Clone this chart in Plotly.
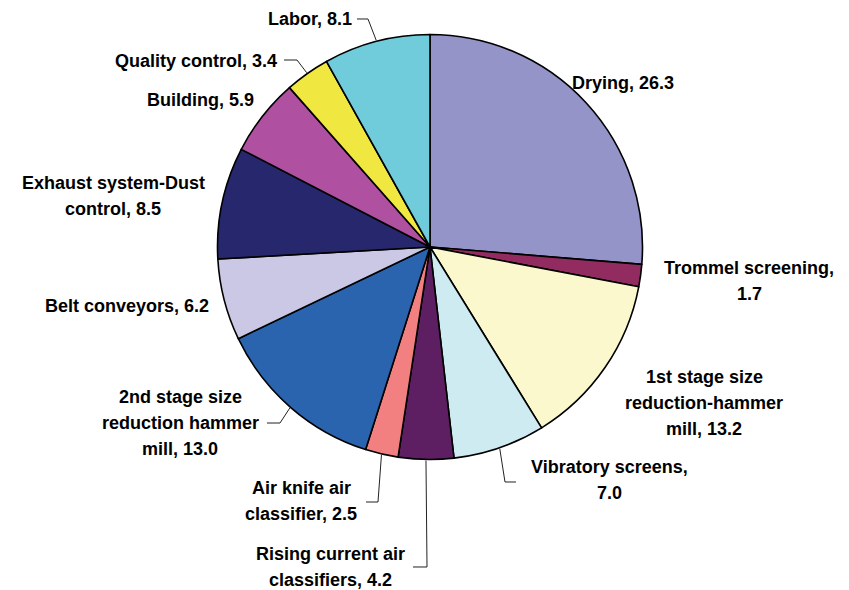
import math
import plotly.graph_objects as go

# ---- data ----
categories = [
    "Drying", "Trommel screening", "1st stage size reduction-hammer mill",
    "Vibratory screens", "Rising current air classifiers", "Air knife air classifier",
    "2nd stage size reduction hammer mill", "Belt conveyors",
    "Exhaust system-Dust control", "Building", "Quality control", "Labor",
]
values = [26.3, 1.7, 13.2, 7.0, 4.2, 2.5, 13.0, 6.2, 8.5, 5.9, 3.4, 8.1]
label_lines = [
    ["Drying, 26.3"],
    ["Trommel screening,", "1.7"],
    ["1st stage size", "reduction-hammer", "mill, 13.2"],
    ["Vibratory screens,", "7.0"],
    ["Rising current air", "classifiers, 4.2"],
    ["Air knife air", "classifier, 2.5"],
    ["2nd stage size", "reduction hammer", "mill, 13.0"],
    ["Belt conveyors, 6.2"],
    ["Exhaust system-Dust", "control, 8.5"],
    ["Building, 5.9"],
    ["Quality control, 3.4"],
    ["Labor, 8.1"],
]

# ---- styles / layout ----
colors = ["#9494C8", "#922C60", "#FAF8CC", "#CDEBF0", "#5E1F62", "#F28080",
          "#2A63AE", "#CAC8E4", "#27276E", "#B050A0", "#F0E840", "#70CCDA"]
OFF = 8                      # page body margin
W, H = 849 - OFF, 590 - OFF  # figure size
CX, CY, R = 430, 247, 212.5  # pie centre / radius in page px
# label centre x and first-line y (page px), line spacing
label_pos = [(623, 83), (749, 268), (704, 377), (609, 467), (330, 554), (301, 488),
             (180, 397), (127, 306), (113, 183), (200, 100), (196, 61), (310, 19)]
LS = 26
# leader lines: index -> (elbow, text end) in page px
leaders = {
    11: ((368, 19), (357, 19)),
    10: ((297, 60), (284, 60)),
    6: ((280, 423), (267, 423)),
    5: ((378, 502), (366, 502)),
    4: ((427, 567), (413, 567)),
    3: ((505, 482), (516, 482)),
}

def px(x, y):
    return (x - OFF) / W, 1 - (y - OFF) / H

x0, y1 = px(CX - R, CY - R)
x1, y0 = px(CX + R, CY + R)
fig = go.Figure(go.Pie(
    labels=categories, values=values, sort=False, direction="clockwise",
    rotation=0, textinfo="none", hoverinfo="label+value",
    marker=dict(colors=colors, line=dict(color="black", width=1.6)),
    domain=dict(x=[x0, x1], y=[y0, y1]),
    showlegend=False,
))

annotations = []
for i, lines in enumerate(label_lines):
    lx, ly = label_pos[i]
    for k, t in enumerate(lines):
        ax, ay = px(lx, ly + k * LS)
        annotations.append(dict(x=ax, y=ay, xref="paper", yref="paper", text="<b>" + t + "</b>",
                                showarrow=False, xanchor="center", yanchor="middle",
                                font=dict(family="Liberation Sans", size=18, color="black")))

shapes = []
total = sum(values)
cum = 0
mids = []
for v in values:
    mids.append((cum + v / 2) / total * 2 * math.pi)
    cum += v
for i, (elbow, end) in leaders.items():
    a = mids[i]
    ex, ey = CX + (R + 1) * math.sin(a), CY - (R + 1) * math.cos(a)
    pts = [(ex, ey), elbow, end]
    path = "M " + " L ".join(f"{px(x, y)[0]:.5f},{px(x, y)[1]:.5f}" for x, y in pts)
    shapes.append(dict(type="path", path=path, xref="paper", yref="paper",
                       line=dict(color="#222222", width=1)))

fig.update_layout(width=W, height=H, margin=dict(l=0, r=0, t=0, b=0),
                  paper_bgcolor="white", plot_bgcolor="white",
                  annotations=annotations, shapes=shapes)
fig.write_html("out.html")
